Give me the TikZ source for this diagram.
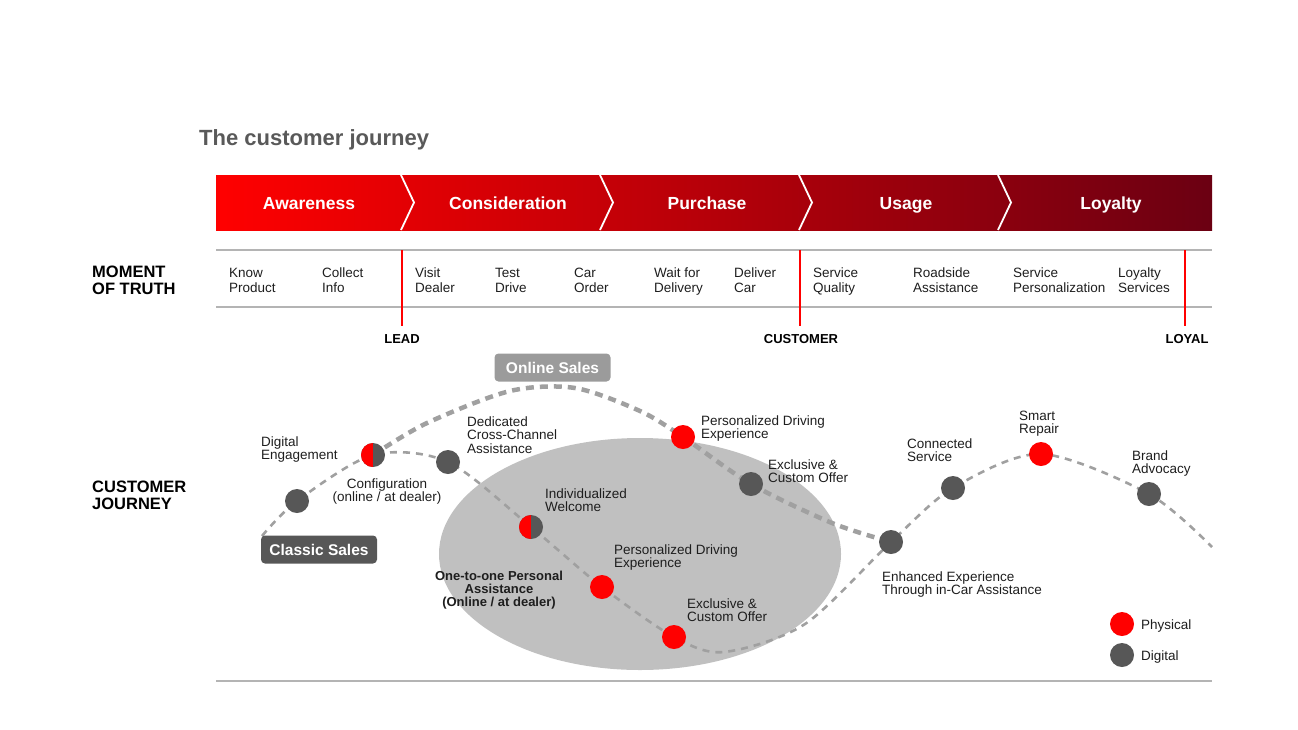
\documentclass[tikz,border=0pt]{standalone}
\usepackage{fontspec}
\setmainfont{Liberation Sans}
\usetikzlibrary{positioning,backgrounds}

\definecolor{jred}{HTML}{FF0000}
\definecolor{jdarkred}{HTML}{6B0012}
\definecolor{jgray}{HTML}{575757}
\definecolor{jdash}{HTML}{A0A0A0}
\definecolor{jellipse}{HTML}{C0C0C0}
\definecolor{jonline}{HTML}{9B9B9B}
\definecolor{jtitle}{HTML}{595959}
\definecolor{jrule}{HTML}{B4B4B4}
\definecolor{jtext}{HTML}{1E1E1E}

\tikzset{
  phase/.style={anchor=base, text=white, font=\bfseries\fontsize{17.5}{18}\selectfont},
  marker/.style={inner sep=0, font=\bfseries\fontsize{13}{14}\selectfont},
  heading/.style={anchor=base west, align=left, inner sep=0,
    font=\bfseries\fontsize{16.5}{17}\selectfont},
  moment/.style={anchor=base west, align=left, inner sep=0, text=jtext,
    font=\fontsize{13.5}{15}\selectfont},
  steplabel/.style={anchor=base west, align=left, inner sep=0, text=jtext,
    font=\fontsize{13.5}{13.5}\selectfont},
  physdot/.style={circle, fill=jred, minimum size=24pt, inner sep=0},
  digidot/.style={circle, fill=jgray, minimum size=24pt, inner sep=0},
  halfdot/.style={circle, fill=jgray, minimum size=24pt, inner sep=0,
    path picture={\fill[jred] (path picture bounding box.south)
      rectangle (path picture bounding box.north west);}},
  salesbox/.style={rounded corners=4pt, text=white, minimum width=116pt,
    minimum height=28pt, inner sep=0, font=\bfseries\fontsize{15.5}{16}\selectfont},
  rule/.style={jrule, line width=1.2pt},
  redmark/.style={jred, line width=2pt},
  classicline/.style={jdash, line width=2.6pt, dash pattern=on 7pt off 6pt},
  onlineline/.style={jdash, line width=4.5pt, dash pattern=on 8pt off 6pt}
}

\begin{document}
\begin{tikzpicture}[x=1pt, y=-1pt]
  \useasboundingbox (0,0) rectangle (1298,729);

  % title
  \node[anchor=base west, inner sep=0, text=jtitle,
    font=\bfseries\fontsize{22}{24}\selectfont] (title) at (199,145)
    {The customer journey};

  % phase band
  \shade[left color=jred, right color=jdarkred] (216,175) rectangle (1212,230);
  \foreach \x in {401,600,799,998}
    \draw[white, line width=1.8pt] (\x,175) -- (\x+13,202.5) -- (\x,230);
  \node[phase] (aware) at (309,209.5) {Awareness};
  \node[phase] (consider) at (508,209.5) {Consideration};
  \node[phase] (purchase) at (707,209.5) {Purchase};
  \node[phase] (usage) at (906,209.5) {Usage};
  \node[phase] (loyalty) at (1111,209.5) {Loyalty};

  % moments of truth (base = last line)
  \draw[rule] (216,250) -- (1212,250);
  \draw[rule] (216,307) -- (1212,307);
  \node[heading] (mot) at (92,294) {MOMENT\\OF TRUTH};
  \node[moment] (know) at (229,292) {Know\\Product};
  \node[moment] (collect) at (322,292) {Collect\\Info};
  \node[moment] (visit) at (415,292) {Visit\\Dealer};
  \node[moment] (test) at (495,292) {Test\\Drive};
  \node[moment] (order) at (574,292) {Car\\Order};
  \node[moment] (wait) at (654,292) {Wait for\\Delivery};
  \node[moment] (deliver) at (734,292) {Deliver\\Car};
  \node[moment] (quality) at (813,292) {Service\\Quality};
  \node[moment] (roadside) at (913,292) {Roadside\\Assistance};
  \node[moment] (personal) at (1013,292) {Service\\Personalization};
  \node[moment] (services) at (1118,292) {Loyalty\\Services};

  \node[marker] (lead) at (402,339) {LEAD};
  \node[marker] (customer) at (801,339) {CUSTOMER};
  \node[marker] (loyal) at (1187,339) {LOYAL};
  \draw[redmark] (402,250) -- ([yshift=8pt]lead.north);
  \draw[redmark] (800,250) -- ([yshift=8pt, xshift=-1pt]customer.north);
  \draw[redmark] (1185,250) -- ([yshift=8pt, xshift=-2pt]loyal.north);

  % customer journey
  \node[heading] (cj) at (92,509) {CUSTOMER\\JOURNEY};
  \node[salesbox, fill=jonline] (online) at (552.5,367.5) {Online Sales};
  \node[salesbox, fill=jgray] (classic) at (319,549.5) {Classic Sales};

  \node[digidot] (engage) at (297,501) {};
  \node[halfdot] (config) at (373,455) {};
  \node[digidot] (dedic) at (448,462) {};
  \node[halfdot] (welcome) at (531,527) {};
  \node[physdot] (drive) at (602,587) {};
  \node[physdot] (offer) at (674,637) {};
  \node[physdot] (onldrive) at (683,437) {};
  \node[digidot] (onloffer) at (751,484) {};
  \node[digidot] (enhance) at (891,542) {};
  \node[digidot] (connect) at (953,488) {};
  \node[physdot] (repair) at (1041,454) {};
  \node[digidot] (advocacy) at (1149,494) {};

  \node[steplabel] at (261,459.5) {Digital\\Engagement};
  \node[steplabel, anchor=base, align=center] at (387,501.5) {Configuration\\(online / at dealer)};
  \node[steplabel] at (467,453) {Dedicated\\Cross-Channel\\Assistance};
  \node[steplabel] at (545,511.5) {Individualized\\Welcome};
  \node[steplabel] at (614,567.5) {Personalized Driving\\Experience};
  \node[steplabel] at (687,621.5) {Exclusive \&\\Custom Offer};
  \node[steplabel] at (701,438.5) {Personalized Driving\\Experience};
  \node[steplabel] at (768,482.5) {Exclusive \&\\Custom Offer};
  \node[steplabel] at (882,594.5) {Enhanced Experience\\Through in-Car Assistance};
  \node[steplabel] at (907,461.5) {Connected\\Service};
  \node[steplabel] at (1019,433.5) {Smart\\Repair};
  \node[steplabel] at (1132,473.5) {Brand\\Advocacy};
  \node[steplabel, anchor=base, align=center, font=\bfseries\fontsize{13}{13}\selectfont]
    at (499,606) {One-to-one Personal\\Assistance\\(Online / at dealer)};

  % legend
  \node[physdot] (legphys) at (1122,624) {};
  \node[digidot] (legdigi) at (1122,655) {};
  \node[steplabel] at (1141,629) {Physical};
  \node[steplabel] at (1141,660) {Digital};
  \draw[rule] (216,681) -- (1212,681);

  % journey curves
  \coordinate (cstart) at (262,536);
  \coordinate (c1) at (724,652);
  \coordinate (c2) at (805,624);
  \coordinate (cend) at (1212,547);
  \coordinate (o1) at (427,423);
  \coordinate (o2) at (510,391);
  \coordinate (o3) at (575,388);
  \coordinate (o4) at (640,411);
  \coordinate (o5) at (832,523);
  \begin{pgfonlayer}{background}
    \fill[jellipse] (640,554) ellipse [x radius=201pt, y radius=116pt];
    \draw[classicline] plot[smooth] coordinates {(cstart) (engage) (config)
      (dedic) (welcome) (drive) (offer) (c1) (c2) (enhance) (connect)
      (repair) (advocacy) (cend)};
    \draw[onlineline] plot[smooth] coordinates {(config) (o1) (o2) (o3)
      (o4) (onldrive) (onloffer) (o5) (enhance)};
  \end{pgfonlayer}
\end{tikzpicture}
\end{document}
